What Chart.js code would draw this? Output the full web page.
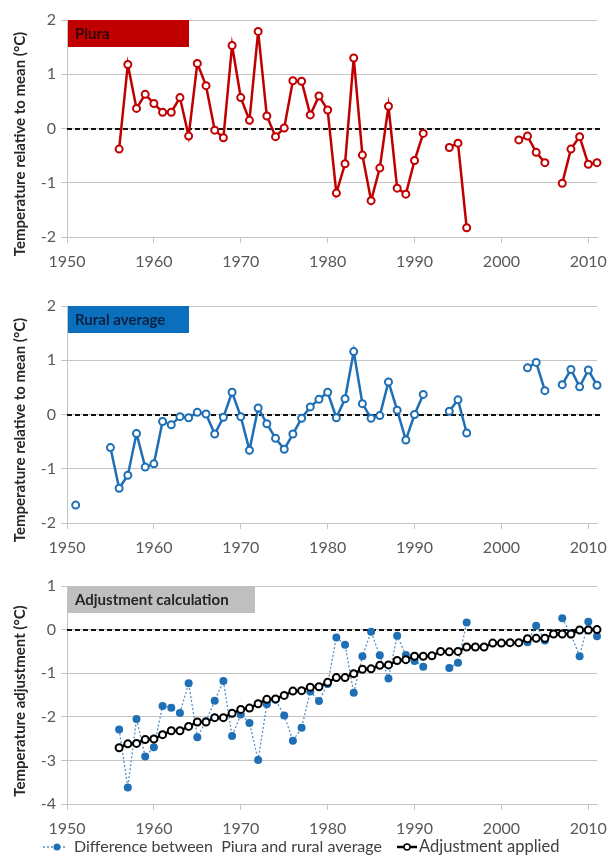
<!DOCTYPE html>
<html>
<head>
<meta charset="utf-8">
<script src="https://cdn.jsdelivr.net/npm/chart.js@4.4.1/dist/chart.umd.min.js"></script>
<style>
  body { margin: 0; background: #fff; }
  #wrap { position: relative; width: 608px; height: 864px; }
  canvas { position: absolute; left: 0; }
</style>
</head>
<body>
<div id="wrap">
  <canvas id="piuraChart" style="top:0" width="608" height="280"></canvas>
  <canvas id="ruralChart" style="top:286px" width="608" height="280"></canvas>
  <canvas id="adjChart" style="top:566px" width="608" height="298"></canvas>
</div>
<script>
// ---------- DATA (one value per year, null = no data) ----------
const years = [
  1951, 1952, 1953, 1954, 1955, 1956, 1957, 1958, 1959, 1960,
  1961, 1962, 1963, 1964, 1965, 1966, 1967, 1968, 1969, 1970,
  1971, 1972, 1973, 1974, 1975, 1976, 1977, 1978, 1979, 1980,
  1981, 1982, 1983, 1984, 1985, 1986, 1987, 1988, 1989, 1990,
  1991, 1992, 1993, 1994, 1995, 1996, 1997, 1998, 1999, 2000,
  2001, 2002, 2003, 2004, 2005, 2006, 2007, 2008, 2009, 2010,
  2011
];

const piura = [
  null, null, null, null, null, -0.38, 1.18, 0.37, 0.63, 0.46,
  0.30, 0.30, 0.57, -0.14, 1.20, 0.79, -0.03, -0.17, 1.53, 0.57,
  0.15, 1.79, 0.23, -0.15, 0.01, 0.88, 0.87, 0.25, 0.60, 0.34,
  -1.19, -0.65, 1.30, -0.49, -1.33, -0.73, 0.41, -1.10, -1.21, -0.59,
  -0.09, null, null, -0.35, -0.27, -1.83, null, null, null, null,
  null, -0.21, -0.14, -0.44, -0.63, null, -1.01, -0.38, -0.15, -0.66,
  -0.63
];

const rural = [
  -1.67, null, null, null, -0.61, -1.36, -1.12, -0.35, -0.97, -0.91,
  -0.13, -0.19, -0.04, -0.06, 0.04, 0.01, -0.36, -0.05, 0.41, -0.04,
  -0.66, 0.12, -0.17, -0.44, -0.64, -0.36, -0.07, 0.14, 0.28, 0.41,
  -0.06, 0.29, 1.16, 0.20, -0.07, -0.02, 0.60, 0.08, -0.47, 0.00,
  0.37, null, null, 0.06, 0.27, -0.34, null, null, null, null,
  null, null, 0.86, 0.96, 0.44, null, 0.55, 0.83, 0.51, 0.82,
  0.54
];

const difference = [
  null, null, null, null, null, -2.29, -3.62, -2.05, -2.91, -2.70,
  -1.75, -1.79, -1.91, -1.23, -2.47, -2.10, -1.63, -1.18, -2.44, -1.95,
  -2.14, -2.99, -1.71, -1.61, -1.97, -2.55, -2.25, -1.42, -1.64, -1.25,
  -0.18, -0.35, -1.45, -0.61, -0.05, -0.59, -1.12, -0.14, -0.58, -0.72,
  -0.85, null, null, -0.88, -0.76, 0.16, null, null, null, null,
  null, null, -0.29, 0.09, -0.25, null, 0.26, -0.11, -0.61, 0.18,
  -0.15
];

const adjustment = [
  null, null, null, null, null, -2.71, -2.62, -2.61, -2.52, -2.51,
  -2.41, -2.32, -2.32, -2.22, -2.12, -2.12, -2.02, -2.02, -1.92, -1.83,
  -1.80, -1.70, -1.60, -1.59, -1.51, -1.41, -1.40, -1.32, -1.31, -1.21,
  -1.10, -1.10, -1.01, -0.91, -0.90, -0.82, -0.81, -0.71, -0.69, -0.61,
  -0.61, -0.60, -0.50, -0.51, -0.50, -0.40, -0.40, -0.40, -0.31, -0.31,
  -0.30, -0.30, -0.21, -0.20, -0.20, -0.10, -0.10, -0.10, -0.01, -0.01,
  0.00
];

const xTicks = [1950, 1960, 1970, 1980, 1990, 2000, 2010];

// ---------- STYLE ----------
const FONT = "Lato, 'Open Sans', sans-serif";
const GRID = "#c4c4c4";
const TICK_COLOR = "#595959";
const RED = "#c00000";
const BLUE = "#1f6fb6";

const toXY = vals => years.map((yr, i) => ({ x: yr, y: vals[i] }));

// dashed zero line, panel label box, rotated axis title, legend
const extras = {
    id: "extras",
    beforeDatasetsDraw(chart, args, opts) {
        const { ctx, chartArea: a, scales: { y } } = chart;
        const py = Math.round(y.getPixelForValue(0));
        ctx.save();
        ctx.strokeStyle = "#111";
        ctx.lineWidth = 2;
        ctx.setLineDash([5, 3]);
        ctx.beginPath();
        ctx.moveTo(a.left, py);
        ctx.lineTo(a.right + 6, py);
        ctx.stroke();
        ctx.restore();
    },
    afterDraw(chart, args, opts) {
        const { ctx, chartArea: a } = chart;
        ctx.save();

        // panel label
        ctx.fillStyle = opts.boxColor;
        ctx.fillRect(a.left + 1, a.top, opts.boxWidth, 27);
        ctx.fillStyle = opts.labelColor;
        ctx.font = "bold 15px " + FONT;
        ctx.textBaseline = "middle";
        ctx.fillText(opts.label, a.left + 8, a.top + 14);

        // y axis title
        ctx.translate(20, opts.titleY);
        ctx.rotate(-Math.PI / 2);
        ctx.textAlign = "center";
        ctx.fillStyle = "#262626";
        ctx.font = "bold 15px " + FONT;
        ctx.fillText(opts.title, 0, 0);
        ctx.restore();

        if (opts.legend) {
            const ly = opts.legendY;
            ctx.save();
            ctx.font = "16px " + FONT;
            ctx.fillStyle = "#404040";
            ctx.textBaseline = "middle";

            // dotted + dot
            ctx.strokeStyle = "#5a8fc4";
            ctx.lineWidth = 1.5;
            ctx.setLineDash([2, 2]);
            ctx.beginPath(); ctx.moveTo(43, ly); ctx.lineTo(66, ly); ctx.stroke();
            ctx.setLineDash([]);
            ctx.fillStyle = BLUE;
            ctx.beginPath(); ctx.arc(57, ly, 3.5, 0, Math.PI * 2); ctx.fill();
            ctx.fillStyle = "#404040";
            ctx.fillText("Difference between  Piura and rural average", 74, ly);

            // line + open circle
            ctx.strokeStyle = "#000";
            ctx.lineWidth = 2.5;
            ctx.beginPath(); ctx.moveTo(397, ly); ctx.lineTo(417, ly); ctx.stroke();
            ctx.fillStyle = "#fff";
            ctx.lineWidth = 1.5;
            ctx.beginPath(); ctx.arc(407, ly, 3, 0, Math.PI * 2); ctx.fill(); ctx.stroke();
            ctx.fillStyle = "#404040";
            ctx.font = "16.5px " + FONT;
            ctx.fillText("Adjustment applied", 419, ly);
            ctx.restore();
        }
    }
};

function xAxis() {
    return {
        type: "linear",
        min: 1950,
        max: 2011,
        afterBuildTicks: s => { s.ticks = xTicks.map(v => ({ value: v })); },
        afterFit: s => {
            s.height = 43;
            s.paddingLeft = 0;
            s.paddingRight = 0;
        },
        grid: { drawOnChartArea: false, color: GRID, tickLength: 6 },
        border: { color: GRID },
        ticks: {
            padding: 9,
            color: TICK_COLOR,
            maxRotation: 0,
            font: { family: FONT, size: 16 },
            callback: v => String(v)
        }
    };
}

function yAxis(min, max) {
    return {
        min: min,
        max: max,
        afterFit: s => { s.width = 67; },
        grid: { color: GRID, tickLength: 6 },
        border: { color: GRID },
        ticks: {
            stepSize: 1,
            padding: 5,
            color: TICK_COLOR,
            font: { family: FONT, size: 16 }
        }
    };
}

function baseOptions(min, max, extraOpts, bottomPad) {
    return {
        responsive: false,
        animation: false,
        layout: { padding: { top: 20, right: 11, left: 0, bottom: bottomPad } },
        scales: { x: xAxis(), y: yAxis(min, max) },
        plugins: {
            legend: { display: false },
            tooltip: { enabled: false },
            extras: extraOpts
        }
    };
}

function seriesLine(vals, color) {
    return {
        data: toXY(vals),
        borderColor: color,
        borderWidth: 2.5,
        pointRadius: 3.5,
        pointBorderWidth: 2,
        pointBackgroundColor: "#fff",
        pointBorderColor: color,
        spanGaps: false,
        tension: 0,
        clip: false
    };
}

// ---------- PIURA ----------
new Chart(document.getElementById("piuraChart"), {
    type: "line",
    data: { datasets: [seriesLine(piura, RED)] },
    options: baseOptions(-2, 2, {
        label: "Piura", boxColor: RED, labelColor: "#2e0505", boxWidth: 121,
        title: "Temperature relative to mean (\u00B0C)", titleY: 144
    }, 0),
    plugins: [extras]
});

// ---------- RURAL AVERAGE ----------
new Chart(document.getElementById("ruralChart"), {
    type: "line",
    data: { datasets: [seriesLine(rural, BLUE)] },
    options: baseOptions(-2, 2, {
        label: "Rural average", boxColor: "#0a6fbd", labelColor: "#0b2240", boxWidth: 121,
        title: "Temperature relative to mean (\u00B0C)", titleY: 144
    }, 0),
    plugins: [extras]
});

// ---------- ADJUSTMENT ----------
new Chart(document.getElementById("adjChart"), {
    type: "line",
    data: {
        datasets: [
            {
                data: toXY(adjustment),
                borderColor: "#000",
                borderWidth: 2.5,
                pointRadius: 3.5,
                pointBorderWidth: 2,
                pointBackgroundColor: "#fff",
                pointBorderColor: "#000",
                clip: false,
                order: 1
            },
            {
                data: toXY(difference),
                borderColor: "#5a8fc4",
                borderWidth: 1.3,
                borderDash: [2, 2],
                pointRadius: 4,
                pointBorderWidth: 0,
                pointBackgroundColor: BLUE,
                pointBorderColor: BLUE,
                spanGaps: false,
                clip: false,
                order: 2
            }
        ]
    },
    options: baseOptions(-4, 1, {
        label: "Adjustment calculation", boxColor: "#bfbfbf", labelColor: "#262626", boxWidth: 187,
        title: "Temperature adjustment (\u00B0C)", titleY: 135,
        legend: true, legendY: 281
    }, 17),
    plugins: [extras]
});
</script>
</body>
</html>
